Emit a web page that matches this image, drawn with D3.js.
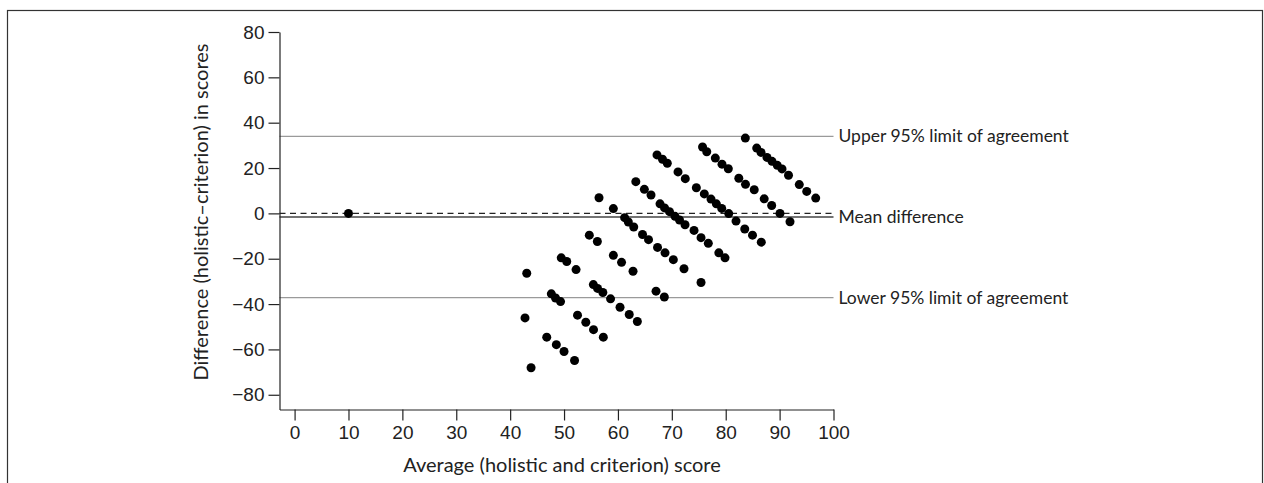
<!DOCTYPE html>
<html>
<head>
<meta charset="utf-8">
<script src="https://cdn.jsdelivr.net/npm/d3@7"></script>
<style>
  body { margin: 0; background: #fff; }
  svg { display: block; font-family: Lato, "Open Sans", sans-serif; }
  .axis text { font-size: 19px; fill: #222; }
  .axis path, .axis line { stroke: #222; stroke-width: 1.2px; }
</style>
</head>
<body>
<svg id="chart" width="1264" height="483"></svg>
<script>
// average (x) and difference (y) for each subject, grouped by diagonal
const average = [
  10, 43.88,
  42.76, 46.79, 48.57, 50.0, 51.95,
  43.08, 47.64, 48.42, 49.35, 52.5, 54.04, 55.47, 57.29,
  49.48, 50.5, 52.23, 55.44, 56.22, 57.2, 58.63, 60.39, 62.1, 63.6,
  54.69, 56.18, 59.15, 60.67, 62.8, 67.07, 68.61,
  56.49, 59.15, 61.24, 61.93, 62.93, 64.56, 65.68, 67.35, 68.74, 70.28, 72.26, 75.42,
  63.32, 64.9, 66.14, 67.81, 68.65, 69.57, 70.59, 71.43, 72.45, 74.12, 75.42, 76.77, 78.72, 79.87,
  67.25, 68.27, 69.16, 71.15, 72.5, 74.55, 76.03, 77.27, 78.26, 79.26, 80.56, 81.91, 83.53, 84.97, 86.6,
  75.7, 76.48, 78.07, 79.31, 80.48, 82.43, 83.67, 85.29, 87.14, 88.53, 90.07, 91.93,
  83.64, 85.75, 86.55, 87.66, 88.59, 89.57, 90.45, 91.65, 93.65, 95.03, 96.7
];
const difference = [
  0, -68.1,
  -46.1, -54.6, -57.9, -60.9, -64.9,
  -26.4, -35.5, -37.3, -38.9, -44.9, -48.0, -51.3, -54.6,
  -19.6, -21.2, -24.8, -31.4, -33.1, -34.9, -37.7, -41.4, -44.6, -47.7,
  -9.6, -12.4, -18.5, -21.6, -25.5, -34.3, -36.9,
  6.9, 2.1, -1.9, -3.8, -6.0, -9.3, -11.6, -15.0, -17.4, -20.4, -24.4, -30.5,
  14.0, 10.6, 8.1, 4.2, 2.4, 0.75, -1.3, -2.9, -5.0, -7.5, -10.7, -13.2, -17.4, -19.6,
  25.8, 23.9, 22.1, 18.3, 15.3, 11.3, 8.6, 6.3, 4.2, 2.2, -0.1, -3.4, -6.9, -9.6, -12.7,
  29.3, 27.2, 24.4, 21.7, 19.7, 15.5, 12.8, 10.4, 6.4, 3.5, 0.0, -3.7,
  33.2, 28.8, 26.9, 24.7, 22.95, 21.2, 19.6, 16.8, 12.7, 9.7, 6.75
];

const xTicks = [0, 10, 20, 30, 40, 50, 60, 70, 80, 90, 100];
const yTicks = [-80, -60, -40, -20, 0, 20, 40, 60, 80];

const refValues = [34, -1.6, -37.2];
const refLabels = ["Upper 95% limit of agreement", "Mean difference", "Lower 95% limit of agreement"];

const svg = d3.select("#chart");

// outer frame
svg.append("rect")
  .attr("x", 7.5).attr("y", 10.5)
  .attr("width", 1255).attr("height", 490)
  .attr("fill", "none")
  .attr("stroke", "#333")
  .attr("stroke-width", 1.2);

const x = d3.scaleLinear().domain([-2.8, 100]).range([279.5, 833.5]);
const y = d3.scaleLinear().domain([-86.5, 80]).range([409.5, 32]);

// reference lines
refValues.forEach((v, i) => {
  svg.append("line")
    .attr("x1", x(-2.8)).attr("x2", x(100))
    .attr("y1", y(v)).attr("y2", y(v))
    .attr("stroke", i === 1 ? "#444" : "#9a9a9a")
    .attr("stroke-width", i === 1 ? 1.6 : 1.2);
  svg.append("text")
    .attr("x", x(100) + 5)
    .attr("y", y(v))
    .attr("dy", "0.35em")
    .attr("font-size", 17.5)
    .attr("fill", "#222")
    .text(refLabels[i]);
});

// zero line
svg.append("line")
  .attr("x1", x(-2.8)).attr("x2", x(100))
  .attr("y1", y(0)).attr("y2", y(0))
  .attr("stroke", "#222")
  .attr("stroke-width", 1.2)
  .attr("stroke-dasharray", "6,4.5");

// points
svg.append("g")
  .selectAll("circle")
  .data(average.map((a, i) => [a, difference[i]]))
  .join("circle")
  .attr("cx", d => x(d[0]))
  .attr("cy", d => y(d[1]))
  .attr("r", 4.5)
  .attr("fill", "#000");

// axes
svg.append("g")
  .attr("class", "axis")
  .attr("transform", `translate(0,${y(-86.5)})`)
  .call(d3.axisBottom(x).tickValues(xTicks).tickSize(11).tickSizeOuter(0).tickPadding(5));

svg.append("g")
  .attr("class", "axis")
  .attr("transform", `translate(${x(-2.8)},0)`)
  .call(d3.axisLeft(y).tickValues(yTicks).tickSize(11).tickSizeOuter(0).tickPadding(4)
    .tickFormat(d => d < 0 ? "\u2212" + Math.abs(d) : d));

// titles
svg.append("text")
  .attr("x", 562).attr("y", 465)
  .attr("dy", "0.35em")
  .attr("text-anchor", "middle")
  .attr("font-size", 20)
  .attr("fill", "#222")
  .text("Average (holistic and criterion) score");

svg.append("text")
  .attr("transform", "translate(201,212) rotate(-90)")
  .attr("dy", "0.35em")
  .attr("text-anchor", "middle")
  .attr("font-size", 20)
  .attr("fill", "#222")
  .text("Difference (holistic\u2013criterion) in scores");
</script>
</body>
</html>
